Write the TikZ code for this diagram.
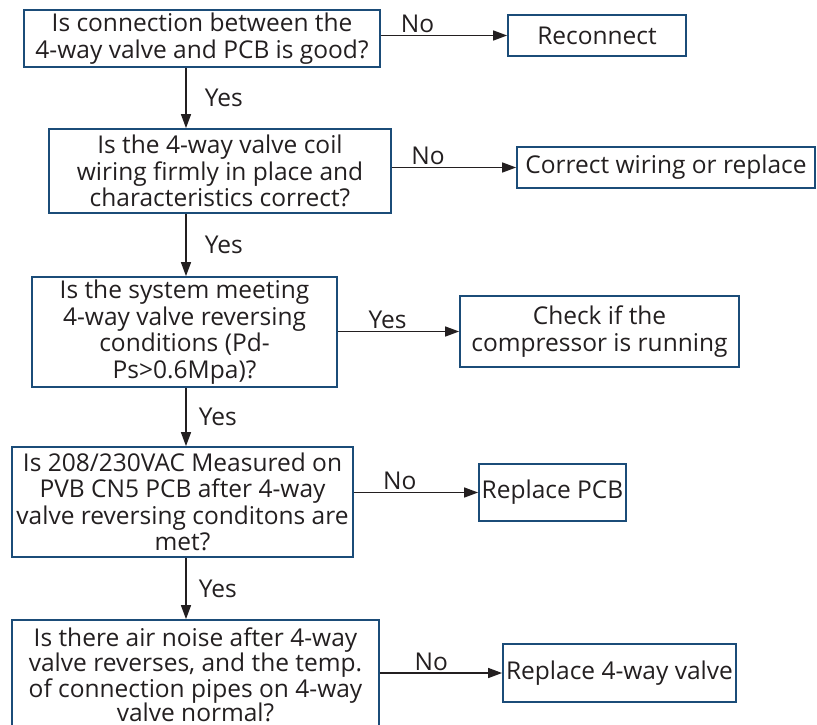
\documentclass[tikz,border=0pt]{standalone}
\usepackage{fontspec}
\setmainfont{Open Sans}
\usetikzlibrary{arrows.meta}
\definecolor{boxblue}{HTML}{1B4C78}
\definecolor{ink}{HTML}{231F20}
\begin{document}
\begin{tikzpicture}[x=1pt,y=-1pt,
  txt/.style={text=ink,font=\fontsize{24.5}{26.5}\selectfont},
  qbox/.style={txt,draw=boxblue,line width=1.8pt,align=center,inner sep=0pt},
  flow/.style={draw=ink,line width=1.5pt,-{Triangle[length=14pt,width=10pt]}},
  tag/.style={txt,inner sep=2pt}]
\useasboundingbox (0,0) rectangle (817,725);
\coordinate (spine) at (186,0);
% questions
\node[qbox,minimum width=356pt,minimum height=57pt] (q1) at (202,38.5)
  {Is connection between the\\4-way valve and PCB is good?};
\node[qbox,minimum width=342pt,minimum height=84pt] (q2) at (220,171)
  {Is the 4-way valve coil\\wiring firmly in place and\\characteristics correct?};
\node[qbox,minimum width=305pt,minimum height=110pt] (q3) at (184.5,332)
  {Is the system meeting\\4-way valve reversing\\conditions (Pd-\\Ps>0.6Mpa)?};
\node[qbox,minimum width=341pt,minimum height=110pt] (q4) at (182.5,502)
  {Is 208/230VAC Measured on\\PVB CN5 PCB after 4-way\\valve reversing conditons are\\met?};
\node[qbox,minimum width=367pt,minimum height=110pt,font=\fontsize{24.5}{24.5}\selectfont] (q5) at (195.5,675)
  {Is there air noise after 4-way\\valve reverses, and the temp.\\of connection pipes on 4-way\\valve normal?};
% actions
\node[qbox,minimum width=178pt,minimum height=41pt] (r1) at (597,35.5) {Reconnect};
\node[qbox,minimum width=298pt,minimum height=41pt] (r2) at (666,167.5) {Correct wiring or replace};
\node[qbox,minimum width=279pt,minimum height=71pt] (r3) at (599.5,331.5) {Check if the\\compressor is running};
\node[qbox,minimum width=147pt,minimum height=57pt] (r4) at (552.5,492.5) {Replace PCB};
\node[qbox,minimum width=233pt,minimum height=58pt] (r5) at (619.5,673) {Replace 4-way valve};
% yes path
\draw[flow] (q1.south -| spine) -- node[tag,right=16pt] {Yes} (q2.north -| spine);
\draw[flow] (q2.south -| spine) -- node[tag,right=16pt] {Yes} (q3.north -| spine);
\draw[flow] (q3.south -| spine) -- node[tag,right=10pt] {Yes} (q4.north -| spine);
\draw[flow] (q4.south -| spine) -- node[tag,right=10pt] {Yes} (q5.north -| spine);
% branches
\draw[flow] (q1.east |- r1.west) -- node[tag,above,pos=.29] {No} (r1.west);
\draw[flow] (q2.east |- r2.west) -- node[tag,above,pos=.29] {No} (r2.west);
\draw[flow] (q3.east |- r3.west) -- node[tag,above,pos=.41] {Yes} (r3.west);
\draw[flow] (q4.east |- r4.west) -- node[tag,above,pos=.37] {No} (r4.west);
\draw[flow] (q5.east |- r5.west) -- node[tag,above,pos=.42] {No} (r5.west);
\end{tikzpicture}
\end{document}
